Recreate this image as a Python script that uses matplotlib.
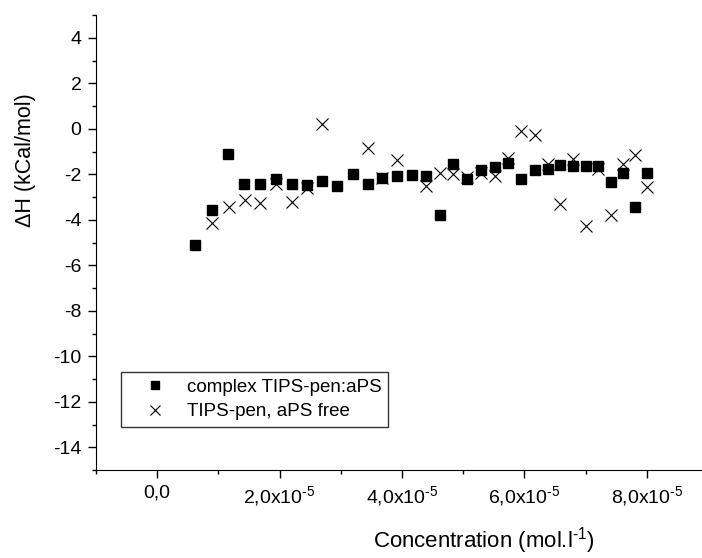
import matplotlib
matplotlib.use("Agg")
import matplotlib.pyplot as plt
from matplotlib.ticker import MultipleLocator, FixedLocator

plt.rcParams['font.family'] = ['Liberation Sans', 'DejaVu Sans']
plt.rcParams['mathtext.fontset'] = 'custom'
plt.rcParams['mathtext.rm'] = 'Liberation Sans'
plt.rcParams['mathtext.it'] = 'Liberation Sans:italic'
plt.rcParams['axes.unicode_minus'] = False

# concentration in units of 1e-5 mol/l
conc_complex = [0.62, 0.89, 1.155, 1.42, 1.68, 1.94, 2.20, 2.45, 2.70, 2.93,
                3.20, 3.44, 3.68, 3.92, 4.16, 4.39, 4.62, 4.84, 5.07, 5.29,
                5.52, 5.73, 5.95, 6.17, 6.38, 6.59, 6.80, 7.00, 7.21, 7.41,
                7.61, 7.81, 8.00]
dh_complex = [-5.13, -3.59, -1.12, -2.41, -2.45, -2.23, -2.42, -2.48, -2.31, -2.53,
              -1.98, -2.42, -2.16, -2.06, -2.03, -2.06, -3.81, -1.55, -2.19, -1.83,
              -1.68, -1.50, -2.19, -1.80, -1.77, -1.58, -1.65, -1.65, -1.65, -2.32,
              -1.93, -3.46, -1.94]

conc_free = [0.89, 1.165, 1.43, 1.68, 1.94, 2.20, 2.45, 2.70, 3.44, 3.68,
             3.92, 4.39, 4.62, 4.84, 5.07, 5.29, 5.52, 5.73, 5.95, 6.17,
             6.38, 6.59, 6.80, 7.00, 7.21, 7.41, 7.61, 7.81, 8.00]
dh_free = [-4.13, -3.45, -3.14, -3.27, -2.45, -3.21, -2.60, 0.21, -0.86, -2.16,
           -1.39, -2.50, -1.95, -1.97, -2.10, -1.94, -2.09, -1.28, -0.08, -0.29,
           -1.55, -3.30, -1.33, -4.28, -1.78, -3.80, -1.55, -1.15, -2.57]

fig = plt.figure(figsize=(7.02, 5.58), dpi=100)
ax = fig.add_axes([0.1368, 0.1577, 0.8717, 0.8154])

ax.plot([c * 1e-5 for c in conc_complex], dh_complex, 's', color='black',
        markersize=7.4, linestyle='none', label='complex TIPS-pen:aPS')
ax.plot([c * 1e-5 for c in conc_free], dh_free, 'x', color='black',
        markersize=8.5, markeredgewidth=0.8, linestyle='none', label='TIPS-pen, aPS free')

ax.set_xlim(-1e-5, 9e-5)
ax.set_ylim(-15, 5)

ax.spines['top'].set_visible(False)
ax.spines['right'].set_visible(False)

xt = [0, 2e-5, 4e-5, 6e-5, 8e-5]
xlabels = ['0,0', r'2,0x10$^{\text{-5}}$', r'4,0x10$^{\text{-5}}$',
           r'6,0x10$^{\text{-5}}$', r'8,0x10$^{\text{-5}}$']
ax.xaxis.set_major_locator(FixedLocator(xt))
ax.set_xticklabels(xlabels)
ax.xaxis.set_minor_locator(FixedLocator([-1e-5, 1e-5, 3e-5, 5e-5, 7e-5]))
ax.set_yticks(range(-14, 5, 2))
ax.yaxis.set_minor_locator(MultipleLocator(1))

ax.tick_params(which='major', direction='out', length=5.5, width=1, labelsize=14, pad=5)
ax.tick_params(which='minor', direction='out', length=3, width=1)

ax.set_xlabel(r'Concentration (mol.l$^{\text{-1}}$)', fontsize=16)
ax.xaxis.set_label_coords(0.634, -0.122)
ax.set_ylabel('ΔH (kCal/mol)', fontsize=15.5)
ax.yaxis.set_label_coords(-0.098, 0.68)

leg = ax.legend(loc='upper left', bbox_to_anchor=(0.04, 0.2154), fontsize=13.5,
                frameon=True, fancybox=False, edgecolor='black', markerscale=0.85,
                handlelength=3.0, handletextpad=0.2, borderpad=0.35, labelspacing=0.4,
                borderaxespad=0)
leg.get_frame().set_linewidth(1)

fig.savefig('out.png', dpi=100)
